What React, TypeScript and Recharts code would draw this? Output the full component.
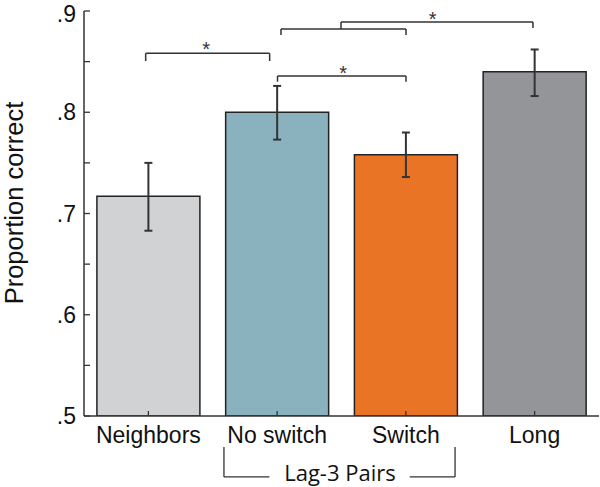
import React from "react";
import {
  BarChart,
  Bar,
  XAxis,
  YAxis,
  ErrorBar,
  Cell,
  ReferenceLine,
  ReferenceDot,
  Label,
} from "recharts";

// conditions and mean proportion correct
const conditions = ["Neighbors", "No switch", "Switch", "Long"];
const means = [0.717, 0.8, 0.758, 0.84];
// [below, above] error extents
const errors: [number, number][] = [
  [0.034, 0.033],
  [0.027, 0.026],
  [0.022, 0.022],
  [0.024, 0.022],
];
const barColors = ["#d1d2d4", "#8ab1be", "#e97425", "#949599"];

const yTicks = [0.5, 0.55, 0.6, 0.65, 0.7, 0.75, 0.8, 0.85, 0.9];
const yLabels: Record<string, string> = {
  "0.5": ".5",
  "0.6": ".6",
  "0.7": ".7",
  "0.8": ".8",
  "0.9": ".9",
};

// significance brackets, x in category units (0..4), y in proportion
const sigSegments: [number, number, number, number][] = [
  // Neighbors vs No switch
  [0.479, 0.8506, 0.479, 0.8582],
  [0.479, 0.8582, 1.442, 0.8582],
  [1.442, 0.8582, 1.442, 0.8506],
  // No switch vs Switch (lower)
  [1.503, 0.8302, 1.503, 0.8358],
  [1.503, 0.8358, 2.501, 0.8358],
  [2.501, 0.8358, 2.501, 0.8302],
  // No switch + Switch pair
  [1.53, 0.8763, 1.53, 0.8822],
  [1.53, 0.8822, 2.501, 0.8822],
  [2.501, 0.8822, 2.501, 0.8763],
  // pair vs Long
  [1.996, 0.8822, 1.996, 0.8891],
  [1.996, 0.8891, 3.487, 0.8891],
  [3.487, 0.8891, 3.487, 0.8832],
];
const stars: [number, number][] = [
  [0.948, 0.8684],
  [2.012, 0.8447],
  [2.708, 0.898],
];

// "Lag-3 Pairs" grouping bracket under the axis
const groupSegments: [number, number, number, number][] = [
  [1.087, 0.4694, 1.087, 0.4398],
  [1.087, 0.4398, 1.44, 0.4398],
  [2.53, 0.4398, 2.882, 0.4398],
  [2.882, 0.4398, 2.882, 0.4694],
];
const groupLabel = { x: 1.988, y: 0.4437, text: "Lag-3 Pairs" };

const data = conditions.map((name, i) => ({
  name,
  pos: i + 0.5,
  value: means[i],
  err: errors[i],
}));

const FONT = "Liberation Sans, Arial, Helvetica, sans-serif";

const YTick = (props: any) => {
  const { x, y, payload } = props;
  const lbl = yLabels[String(+payload.value.toFixed(2))];
  // keep the top label inside the picture
  const dy = Math.max(8, 21.5 - y);
  return (
    <g>
      <line x1={x} x2={x + 6} y1={y} y2={y} stroke="#333" strokeWidth={1.3} />
      {lbl && (
        <text
          x={x - 8}
          y={y}
          dy={dy}
          textAnchor="end"
          fontSize={23}
          fontFamily={FONT}
          fill="#111"
        >
          {lbl}
        </text>
      )}
    </g>
  );
};

const XTick = (props: any) => {
  const { x, y, payload } = props;
  return (
    <g>
      <line x1={x} x2={x} y1={y} y2={y - 5} stroke="#333" strokeWidth={1.3} />
      <text
        x={x}
        y={y + 26.5}
        textAnchor="middle"
        fontSize={23}
        fontFamily={FONT}
        fill="#111"
      >
        {payload.value}
      </text>
    </g>
  );
};

export default function App() {
  return (
    <div style={{ position: "absolute", left: 0, top: 0, background: "#fff" }}>
      <BarChart
        width={600}
        height={487}
        data={data}
        margin={{ top: 11, right: 1, bottom: 31, left: 0 }}
        barCategoryGap={12.9}
        style={{ overflow: "visible" }}
      >
        <XAxis
          dataKey="name"
          height={40}
          axisLine={{ stroke: "#333", strokeWidth: 1.5 }}
          tickLine={false}
          tickSize={0}
          tickMargin={0}
          tick={<XTick />}
          interval={0}
        />
        <XAxis
          xAxisId="pos"
          dataKey="pos"
          type="number"
          domain={[0, 4]}
          ticks={[0, 1, 2, 3, 4]}
          allowDataOverflow
          hide
        />
        <YAxis
          width={84}
          domain={[0.5, 0.9]}
          ticks={yTicks}
          allowDataOverflow
          axisLine={{ stroke: "#333", strokeWidth: 1.5 }}
          tickLine={false}
          tickSize={0}
          tickMargin={0}
          tick={<YTick />}
          interval={0}
        >
          <Label
            content={() => (
              <text
                x={23}
                y={203}
                transform="rotate(-90, 23, 203)"
                textAnchor="middle"
                fontSize={25.5}
                fontFamily={FONT}
                fill="#111"
              >
                Proportion correct
              </text>
            )}
          />
        </YAxis>
        <Bar
          dataKey="value"
          isAnimationActive={false}
          stroke="#222"
          strokeWidth={1.5}
        >
          {data.map((d, i) => (
            <Cell key={d.name} fill={barColors[i]} />
          ))}
          <ErrorBar
            dataKey="err"
            width={4}
            stroke="#333"
            strokeWidth={2}
            direction="y"
          />
        </Bar>
        {sigSegments.map(([x1, y1, x2, y2], i) => (
          <ReferenceLine
            key={"s" + i}
            xAxisId="pos"
            segment={[
              { x: x1, y: y1 },
              { x: x2, y: y2 },
            ]}
            stroke="#333"
            strokeWidth={1.5}
            ifOverflow="visible"
          />
        ))}
        {stars.map(([x, y], i) => (
          <ReferenceDot
            key={"st" + i}
            xAxisId="pos"
            x={x}
            y={y}
            r={0}
            ifOverflow="visible"
            label={{
              value: "*",
              position: "center",
              fontSize: 20,
              fill: "#333",
              fontFamily: FONT,
              dy: 6,
            }}
          />
        ))}
        {groupSegments.map(([x1, y1, x2, y2], i) => (
          <ReferenceLine
            key={"g" + i}
            xAxisId="pos"
            segment={[
              { x: x1, y: y1 },
              { x: x2, y: y2 },
            ]}
            stroke="#333"
            strokeWidth={1.3}
            ifOverflow="visible"
          />
        ))}
        <ReferenceDot
          xAxisId="pos"
          x={groupLabel.x}
          y={groupLabel.y}
          r={0}
          ifOverflow="visible"
          label={{
            value: groupLabel.text,
            position: "center",
            fontSize: 22,
            fill: "#111",
            fontFamily: "Open Sans, Segoe UI, sans-serif",
          }}
        />
      </BarChart>
    </div>
  );
}
